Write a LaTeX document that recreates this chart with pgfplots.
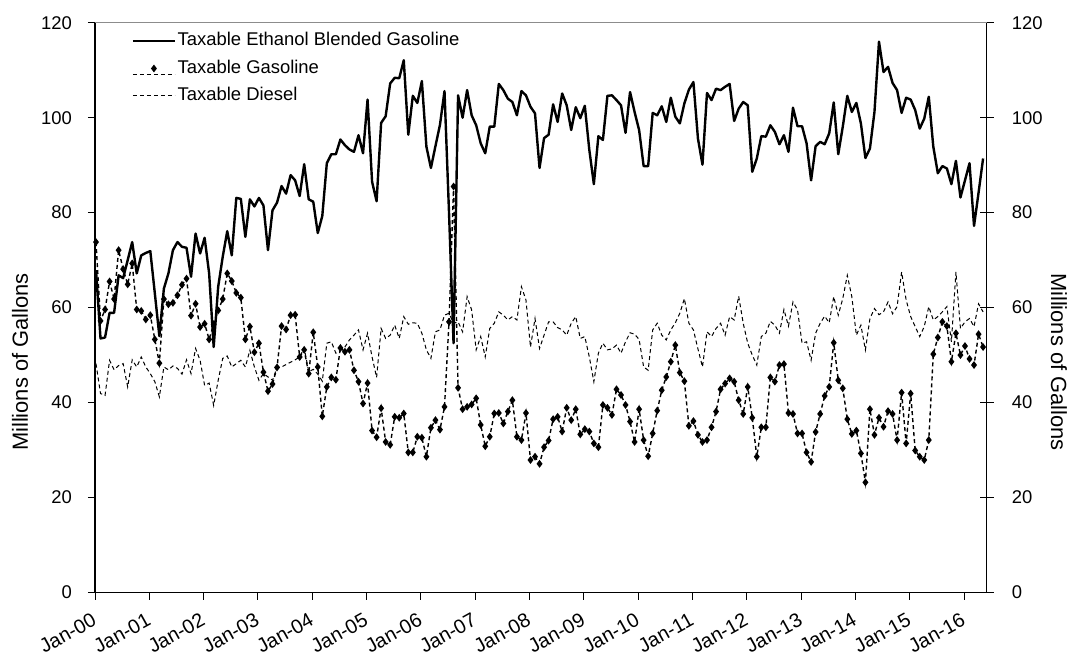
\documentclass[border=0pt]{standalone}
\usepackage{fontspec}
\setmainfont{Liberation Sans}
\usepackage{pgfplots}
\pgfplotsset{compat=1.18}
\pgfplotsset{
  legline/.style={legend image code/.code={\draw[##1] (0bp,0bp) -- (42bp,0bp);}},
  leggas/.style={legend image code/.code={\draw[##1,mark=none] (0bp,-6bp) -- (42bp,-6bp);
     \draw[##1] plot coordinates {(21bp,0bp)};}},
  common/.style={
    at={(95bp,65.5bp)}, anchor=south west,
    scale only axis, width=891.7bp, height=569.8bp,
    xmin=-0.22, xmax=196.8, ymin=0, ymax=120,
    ytick={0,20,...,120},
    /pgf/number format/assume math mode=true,
    tick label style={font=\fontsize{18.5}{22}\selectfont},
    label style={font=\fontsize{22}{26}\selectfont},
    major tick length=7bp,
    every tick/.style={black, line width=0.9bp},
  }
}
\begin{document}
\begin{tikzpicture}
\useasboundingbox (0,0) rectangle (1070bp,658bp);
\begin{axis}[common,
  axis lines*=left,
  axis line style={line width=1.1bp},
  tick align=outside,
  xtick={-0.22,11.78,23.78,35.78,47.78,59.78,71.78,83.78,95.78,107.78,119.78,131.78,143.78,155.78,167.78,179.78,191.78},
  xticklabels={},
  yticklabel style={anchor=east, inner sep=0pt, xshift=-16bp},
  ylabel={Millions of Gallons},
  ylabel style={at={(axis description cs:-0.0841,0.4045)}, anchor=center, rotate=0},
  legend style={at={(axis description cs:0.0412,0.985)}, anchor=north west,
    draw=none, fill=none, inner sep=0pt, outer sep=0pt, row sep=8bp,
    nodes={inner sep=1.5bp, text height=13bp, text depth=3.5bp},
    font=\fontsize{18.5}{22}\selectfont},
  legend cell align=left,
  after end axis/.code={
    \foreach \xv/\lab in {-0.22/Jan-00,11.78/Jan-01,23.78/Jan-02,35.78/Jan-03,47.78/Jan-04,59.78/Jan-05,71.78/Jan-06,83.78/Jan-07,95.78/Jan-08,107.78/Jan-09,119.78/Jan-10,131.78/Jan-11,143.78/Jan-12,155.78/Jan-13,167.78/Jan-14,179.78/Jan-15,191.78/Jan-16}{
      \node[xshift=-4bp, yshift=-19.5bp, rotate=29, anchor=north east, inner sep=0pt,
        font=\fontsize{20}{24}\selectfont] at (axis cs:\xv,0) {\lab};
    }
  },
]
\addplot[black, line width=2.4bp, line join=round, legline]
coordinates {
(0,67.9)(1,53.5)(2,53.7)(3,58.9)(4,58.9)(5,66.8)(6,66.2)(7,70.0)(8,73.8)(9,67.2)
(10,71.0)(11,71.5)(12,71.9)(13,63.0)(14,54.0)(15,64.0)(16,67.2)(17,72.1)(18,73.8)(19,72.8)
(20,72.6)(21,66.5)(22,75.6)(23,71.4)(24,74.7)(25,67.2)(26,51.7)(27,64.4)(28,70.7)(29,76.1)
(30,71.0)(31,83.1)(32,82.9)(33,74.9)(34,82.8)(35,81.3)(36,83.1)(37,81.5)(38,72.1)(39,80.5)
(40,82.1)(41,85.6)(42,84.0)(43,87.9)(44,86.8)(45,83.5)(46,90.2)(47,82.8)(48,82.3)(49,75.7)
(50,79.3)(51,90.4)(52,92.3)(53,92.3)(54,95.4)(55,94.2)(56,93.3)(57,92.8)(58,96.3)(59,92.5)
(60,103.8)(61,86.5)(62,82.4)(63,98.9)(64,100.3)(65,107.2)(66,108.4)(67,108.3)(68,112.1)(69,96.4)
(70,104.6)(71,103.1)(72,107.7)(73,93.9)(74,89.4)(75,94.0)(76,98.5)(77,105.6)(78,80.0)(79,52.5)
(80,104.7)(81,100.0)(82,105.8)(83,100.5)(84,98.4)(85,94.6)(86,92.5)(87,98.1)(88,98.1)(89,107.1)
(90,105.8)(91,104.0)(92,103.3)(93,100.5)(94,105.6)(95,104.7)(96,102.3)(97,100.9)(98,89.4)(99,95.7)
(100,96.4)(101,102.8)(102,99.1)(103,105.1)(104,102.6)(105,97.4)(106,102.2)(107,99.9)(108,102.5)(109,93.2)
(110,86.0)(111,96.1)(112,95.3)(113,104.6)(114,104.7)(115,103.7)(116,102.6)(117,96.8)(118,105.4)(119,101.2)
(120,97.4)(121,89.8)(122,89.8)(123,101.0)(124,100.5)(125,102.4)(126,99.1)(127,104.2)(128,100.2)(129,98.8)
(130,103.0)(131,105.9)(132,107.5)(133,95.6)(134,90.1)(135,105.2)(136,103.7)(137,106.1)(138,105.8)(139,106.5)
(140,107.1)(141,99.3)(142,101.9)(143,103.3)(144,102.6)(145,88.6)(146,91.4)(147,96.1)(148,96.0)(149,98.4)
(150,97.0)(151,94.4)(152,96.3)(153,92.8)(154,102.1)(155,98.2)(156,98.2)(157,94.6)(158,86.8)(159,94.0)
(160,94.9)(161,94.4)(162,96.7)(163,103.2)(164,92.3)(165,98.1)(166,104.6)(167,101.2)(168,103.1)(169,98.8)
(170,91.5)(171,93.5)(172,101.2)(173,116.0)(174,109.6)(175,110.7)(176,107.3)(177,105.8)(178,101.0)(179,104.2)
(180,103.8)(181,101.6)(182,97.7)(183,99.8)(184,104.4)(185,93.9)(186,88.3)(187,89.8)(188,89.3)(189,86.0)
(190,90.9)(191,83.2)(192,86.8)(193,90.4)(194,77.2)(195,84.2)(196,91.4)
};
\addlegendentry{Taxable Ethanol Blended Gasoline}
\addplot[black, line width=1.4bp, dash pattern=on 4bp off 3bp,
  mark=diamond*, mark size=2.8bp, mark options={solid, fill=black}, leggas]
coordinates {
(0,73.8)(1,57.2)(2,59.6)(3,65.5)(4,61.8)(5,72.1)(6,68.1)(7,64.9)(8,69.3)(9,59.6)
(10,59.3)(11,57.5)(12,58.4)(13,53.3)(14,48.3)(15,61.8)(16,60.7)(17,61.0)(18,62.6)(19,64.8)
(20,66.1)(21,58.3)(22,60.8)(23,55.9)(24,56.6)(25,53.3)(26,56.5)(27,59.4)(28,61.8)(29,67.2)
(30,65.6)(31,63.1)(32,62.1)(33,53.3)(34,56.0)(35,50.6)(36,52.5)(37,46.4)(38,42.4)(39,43.9)
(40,47.4)(41,56.1)(42,55.4)(43,58.4)(44,58.5)(45,49.6)(46,51.1)(47,46.1)(48,54.8)(49,47.5)
(50,37.1)(51,43.3)(52,45.3)(53,44.8)(54,51.5)(55,50.7)(56,51.1)(57,46.8)(58,44.4)(59,39.8)
(60,44.1)(61,34.1)(62,32.7)(63,38.8)(64,31.7)(65,31.1)(66,37.0)(67,36.8)(68,37.7)(69,29.5)
(70,29.5)(71,32.8)(72,32.6)(73,28.6)(74,34.7)(75,36.3)(76,34.3)(77,39.1)(78,57.0)(79,85.5)
(80,43.1)(81,38.6)(82,39.1)(83,39.6)(84,40.9)(85,35.3)(86,30.8)(87,32.8)(88,37.7)(89,37.8)
(90,35.6)(91,38.1)(92,40.5)(93,32.8)(94,32.1)(95,37.8)(96,27.9)(97,28.6)(98,27.1)(99,30.6)
(100,32.0)(101,36.5)(102,37.0)(103,33.9)(104,38.9)(105,36.3)(106,38.6)(107,33.3)(108,34.4)(109,33.9)
(110,31.4)(111,30.6)(112,39.5)(113,38.9)(114,37.4)(115,42.8)(116,41.6)(117,39.5)(118,36.0)(119,31.7)
(120,38.6)(121,32.1)(122,28.7)(123,33.5)(124,38.3)(125,42.6)(126,45.4)(127,48.6)(128,52.1)(129,46.3)
(130,44.5)(131,35.1)(132,36.1)(133,33.2)(134,31.7)(135,32.1)(136,34.8)(137,38.1)(138,42.8)(139,44.0)
(140,45.1)(141,44.4)(142,40.5)(143,37.6)(144,43.3)(145,36.8)(146,28.6)(147,34.8)(148,34.8)(149,45.3)
(150,44.4)(151,47.9)(152,48.1)(153,37.8)(154,37.6)(155,33.5)(156,33.5)(157,29.5)(158,27.5)(159,33.8)
(160,37.6)(161,41.4)(162,43.3)(163,52.6)(164,44.7)(165,43.0)(166,36.5)(167,33.4)(168,34.1)(169,29.3)
(170,23.2)(171,38.6)(172,33.2)(173,36.8)(174,34.9)(175,38.2)(176,37.6)(177,32.1)(178,42.1)(179,31.4)
(180,41.9)(181,29.9)(182,28.6)(183,27.9)(184,32.1)(185,50.2)(186,53.7)(187,57.0)(188,56.1)(189,48.6)
(190,54.6)(191,50.0)(192,51.9)(193,49.2)(194,47.9)(195,54.4)(196,51.7)
};
\addlegendentry{Taxable Gasoline}
\addplot[black, line width=1bp, dash pattern=on 4bp off 3bp, legline]
coordinates {
(0,48.2)(1,41.9)(2,41.5)(3,48.9)(4,46.9)(5,47.8)(6,48.2)(7,43.3)(8,49.0)(9,47.5)
(10,49.6)(11,47.5)(12,46.1)(13,44.4)(14,41.2)(15,47.5)(16,46.9)(17,47.7)(18,47.2)(19,46.0)
(20,49.0)(21,46.1)(22,51.4)(23,48.9)(24,43.6)(25,44.1)(26,39.4)(27,44.7)(28,49.3)(29,49.8)
(30,47.5)(31,48.2)(32,48.9)(33,47.5)(34,51.0)(35,47.5)(36,44.7)(37,46.1)(38,45.4)(39,44.7)
(40,47.4)(41,47.5)(42,48.0)(43,48.5)(44,49.0)(45,49.6)(46,51.5)(47,46.5)(48,47.0)(49,46.0)
(50,44.5)(51,52.5)(52,52.8)(53,50.4)(54,51.0)(55,51.7)(56,53.2)(57,54.2)(58,55.3)(59,51.1)
(60,54.6)(61,49.6)(62,45.3)(63,55.6)(64,53.5)(65,54.2)(66,56.3)(67,53.5)(68,58.1)(69,56.5)
(70,56.8)(71,56.7)(72,54.6)(73,51.1)(74,49.3)(75,54.9)(76,55.3)(77,58.4)(78,58.8)(79,56.7)
(80,57.0)(81,54.9)(82,62.3)(83,59.5)(84,51.1)(85,53.9)(86,49.6)(87,55.6)(88,56.7)(89,59.1)
(90,58.4)(91,57.4)(92,58.1)(93,57.4)(94,64.4)(95,61.6)(96,51.7)(97,57.7)(98,51.4)(99,54.2)
(100,57.0)(101,57.0)(102,55.8)(103,55.3)(104,54.2)(105,56.7)(106,58.1)(107,53.5)(108,53.9)(109,49.6)
(110,44.4)(111,50.4)(112,52.5)(113,51.1)(114,51.3)(115,52.1)(116,50.4)(117,52.8)(118,54.7)(119,54.4)
(120,53.3)(121,47.5)(122,46.8)(123,55.3)(124,56.7)(125,54.2)(126,53.2)(127,55.3)(128,56.8)(129,58.8)
(130,61.9)(131,56.7)(132,55.3)(133,51.3)(134,47.5)(135,54.9)(136,53.9)(137,55.6)(138,56.7)(139,54.2)
(140,58.1)(141,57.4)(142,62.4)(143,56.7)(144,52.5)(145,50.0)(146,47.9)(147,53.9)(148,54.6)(149,57.1)
(150,56.3)(151,54.6)(152,59.6)(153,56.1)(154,61.2)(155,59.5)(156,52.5)(157,52.8)(158,48.9)(159,54.6)
(160,56.7)(161,58.2)(162,56.8)(163,62.3)(164,58.4)(165,61.9)(166,66.8)(167,62.3)(168,54.2)(169,56.3)
(170,51.1)(171,57.7)(172,59.8)(173,58.5)(174,59.1)(175,61.2)(176,58.7)(177,60.2)(178,67.5)(179,61.6)
(180,58.1)(181,56.0)(182,53.9)(183,56.0)(184,60.2)(185,57.4)(186,58.1)(187,59.1)(188,60.2)(189,52.8)
(190,67.5)(191,55.6)(192,57.0)(193,57.7)(194,56.0)(195,60.8)(196,59.1)
};
\addlegendentry{Taxable Diesel}
\end{axis}
\begin{axis}[common,
  axis y line*=right, axis x line*=top,
  x axis line style={draw=black!45, line width=0.9bp},
  y axis line style={line width=1.1bp},
  xtick=\empty,
  tick align=center, major tick length=14bp,
  yticklabel style={anchor=west, inner sep=0pt, xshift=18bp},
  ylabel={Millions of Gallons},
  ylabel style={at={(axis description cs:1.081,0.4045)}, anchor=center, rotate=180},
]
\end{axis}
\end{tikzpicture}
\end{document}
